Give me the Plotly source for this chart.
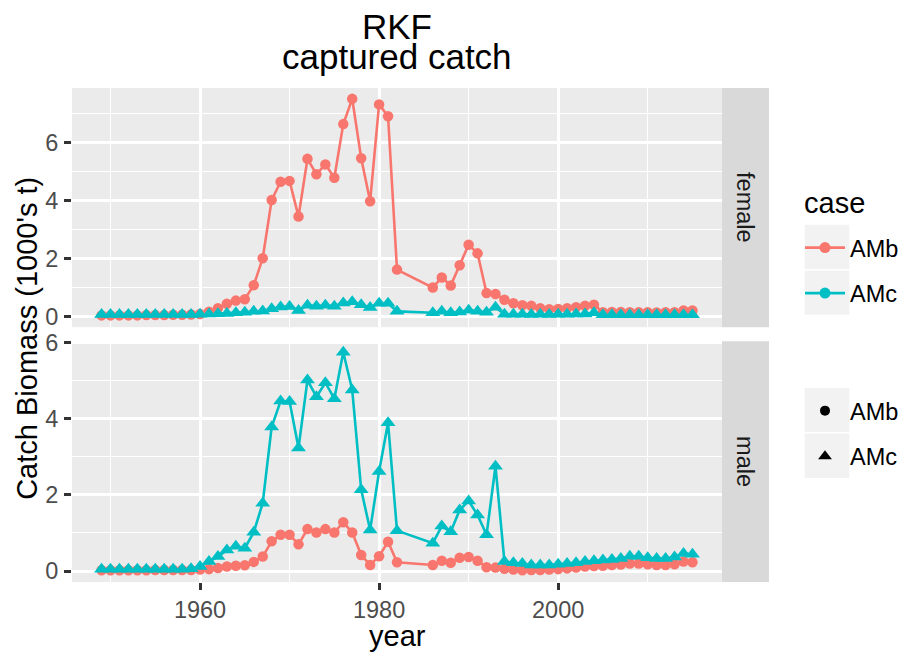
import plotly.graph_objects as go

# ---------------- data ----------------
years = list(range(1949, 1983)) + list(range(1986, 2016))

female_AMb = [0.03, 0.03, 0.03, 0.03, 0.03, 0.04, 0.04, 0.04, 0.05, 0.05, 0.06,
              0.08, 0.16, 0.28, 0.43, 0.54, 0.59, 1.07, 2.00, 4.01, 4.64, 4.67,
              3.44, 5.43, 4.90, 5.24, 4.78, 6.63, 7.50, 5.45, 3.97, 7.31, 6.90, 1.61,
              0.99, 1.34, 1.06, 1.76, 2.47, 2.17, 0.80, 0.77, 0.57, 0.45, 0.38,
              0.36, 0.28, 0.24, 0.25, 0.28, 0.31, 0.36, 0.40, 0.14, 0.15, 0.15,
              0.14, 0.14, 0.14, 0.13, 0.14, 0.14, 0.20, 0.20]
female_AMc = [0.06, 0.06, 0.06, 0.06, 0.06, 0.06, 0.06, 0.06, 0.06, 0.06, 0.06,
              0.07, 0.08, 0.09, 0.10, 0.12, 0.14, 0.17, 0.18, 0.26, 0.32, 0.34,
              0.20, 0.38, 0.35, 0.38, 0.35, 0.46, 0.50, 0.40, 0.30, 0.45, 0.45, 0.17,
              0.12, 0.17, 0.12, 0.15, 0.21, 0.17, 0.14, 0.31, 0.07, 0.07, 0.07,
              0.06, 0.07, 0.06, 0.07, 0.07, 0.08, 0.08, 0.12, 0.05, 0.05, 0.05,
              0.05, 0.05, 0.05, 0.05, 0.05, 0.05, 0.05, 0.05]
male_AMb = [0.02, 0.02, 0.02, 0.02, 0.02, 0.02, 0.03, 0.03, 0.03, 0.03, 0.03,
            0.04, 0.05, 0.08, 0.12, 0.14, 0.15, 0.24, 0.38, 0.78, 0.95, 0.95,
            0.70, 1.10, 1.01, 1.10, 1.01, 1.28, 1.01, 0.42, 0.16, 0.39, 0.77, 0.23,
            0.16, 0.27, 0.22, 0.35, 0.37, 0.27, 0.10, 0.09, 0.06, 0.04, 0.02,
            0.03, 0.03, 0.04, 0.05, 0.07, 0.09, 0.12, 0.13, 0.14, 0.16, 0.17,
            0.20, 0.20, 0.18, 0.16, 0.16, 0.18, 0.25, 0.23]
male_AMc = [0.05, 0.05, 0.05, 0.05, 0.05, 0.05, 0.05, 0.05, 0.05, 0.05, 0.06,
            0.12, 0.25, 0.38, 0.55, 0.65, 0.60, 1.02, 1.78, 3.78, 4.46, 4.45,
            3.23, 5.01, 4.57, 4.94, 4.52, 5.74, 4.75, 2.13, 1.08, 2.61, 3.89, 1.06,
            0.73, 1.18, 1.03, 1.60, 1.84, 1.47, 0.95, 2.75, 0.25, 0.22, 0.20,
            0.16, 0.16, 0.16, 0.18, 0.20, 0.22, 0.25, 0.27, 0.29, 0.30, 0.33,
            0.39, 0.39, 0.35, 0.33, 0.33, 0.37, 0.46, 0.44]

cases = ["AMb", "AMc"]
case_colors = ["#F8766D", "#00BFC4"]
case_symbols = ["circle", "triangle-up"]
x_ticks = [1960, 1980, 2000]
y_ticks = [0, 2, 4, 6]

# ---------------- layout helpers ----------------
FONT = "Liberation Sans, Arial, Helvetica, sans-serif"
W, H = 907, 655
OFF = 8  # page body margin shifts the figure by 8px right/down
# target pixel geometry (as seen in the screenshot)
P_LEFT, P_RIGHT, P_TOP, P_BOT = 72, 769, 88.3, 582.0
L = P_LEFT - OFF
T = P_TOP - OFF
R = W - (P_RIGHT - OFF)
B = H - (P_BOT - OFF)
PW, PH = W - L - R, H - T - B


def fx(px):
    return (px - OFF - L) / PW


def fy(py):
    return (H - B - (py - OFF)) / PH


fig = go.Figure()

panels = [("female", [female_AMb, female_AMc], "x2", "y2"),
          ("male", [male_AMb, male_AMc], "x", "y")]

for name, series, xa, ya in panels:
    # lines first (ggplot draws geom_line below geom_point)
    for case, col, vals in zip(cases, case_colors, series):
        fig.add_trace(go.Scatter(x=years, y=vals, mode="lines", xaxis=xa, yaxis=ya,
                                 line=dict(color=col, width=2.6),
                                 showlegend=False, hoverinfo="skip"))
    for case, col, sym, vals in zip(cases, case_colors, case_symbols, series):
        fig.add_trace(go.Scatter(x=years, y=vals, mode="markers", xaxis=xa, yaxis=ya,
                                 marker=dict(color=col, symbol=sym,
                                             size=10.5 if sym == "circle" else 13,
                                             line=dict(width=0)),
                                 name=case, showlegend=False))

# legend entries: colour legend
for case, col in zip(cases, case_colors):
    fig.add_trace(go.Scatter(x=[None], y=[None], mode="lines+markers", name=case,
                             line=dict(color=col, width=2.8),
                             marker=dict(color=col, size=11, symbol="circle"),
                             legend="legend", legendgroup="c" + case))
# legend entries: shape legend
for case, sym in zip(cases, case_symbols):
    fig.add_trace(go.Scatter(x=[None], y=[None], mode="markers", name=case,
                             marker=dict(color="black", size=10 if sym == "circle" else 12,
                                         symbol=sym),
                             legend="legend2", legendgroup="s" + case))

grid_major = dict(showgrid=True, gridcolor="white", gridwidth=2.7, zeroline=False,
                  showline=False)

female_top, female_bot = 88.3, 327.3
male_top, male_bot = 341.3, 582.0
x_range = [1945.7, 2018.3]
tick_style = dict(ticks="outside", ticklen=7, tickwidth=2.7, tickcolor="#333333",
                  tickfont=dict(size=23.5, color="#4D4D4D"))

fig.update_layout(
    width=W, height=H,
    margin=dict(l=L, r=R, t=T, b=B, autoexpand=False),
    paper_bgcolor="white", plot_bgcolor="#EBEBEB",
    font=dict(family=FONT, color="black"),
    xaxis=dict(domain=[0, fx(722)], anchor="y", range=x_range, tickvals=x_ticks,
               minor=dict(dtick=10, tick0=1950, showgrid=True, gridcolor="white",
                          gridwidth=1.3, ticks=""),
               **tick_style, **grid_major),
    xaxis2=dict(domain=[0, fx(722)], anchor="y2", range=x_range, matches="x",
                tickvals=x_ticks, showticklabels=False, ticks="",
                minor=dict(dtick=10, tick0=1950, showgrid=True, gridcolor="white",
                           gridwidth=1.3, ticks=""),
                **grid_major),
    yaxis=dict(domain=[0, fy(male_top)], anchor="x", range=[-0.287, 6.03],
               tickvals=y_ticks, ticklabelstandoff=1,
               minor=dict(tickvals=[1, 3, 5], showgrid=True, gridcolor="white",
                          gridwidth=1.3, ticks=""),
               **tick_style, **grid_major),
    yaxis2=dict(domain=[fy(female_bot), 1], anchor="x2", range=[-0.375, 7.875],
                tickvals=y_ticks, ticklabelstandoff=1,
                minor=dict(tickvals=[1, 3, 5, 7], showgrid=True, gridcolor="white",
                           gridwidth=1.3, ticks=""),
                **tick_style, **grid_major),
    legend=dict(font=dict(size=23.5), x=fx(800), xanchor="left", y=fy(226),
                yanchor="top", itemwidth=40, tracegroupgap=12,
                bgcolor="rgba(0,0,0,0)"),
    legend2=dict(font=dict(size=23.5), x=fx(800), xanchor="left", y=fy(389),
                 yanchor="top", itemwidth=40, tracegroupgap=12,
                 bgcolor="rgba(0,0,0,0)"),
)

shapes = []
# facet strips
for top, bot in [(female_top, female_bot), (male_top, male_bot)]:
    shapes.append(dict(type="rect", xref="paper", yref="paper", x0=fx(722), x1=fx(769),
                       y0=fy(bot), y1=fy(top), fillcolor="#D9D9D9", line=dict(width=0),
                       layer="below"))
# legend key backgrounds
for top in [224.3, 270.0, 387.3, 433.0]:
    shapes.append(dict(type="rect", xref="paper", yref="paper", x0=fx(804), x1=fx(850),
                       y0=fy(top + 45.7), y1=fy(top), fillcolor="#F2F2F2",
                       line=dict(color="white", width=1.4), layer="below"))
fig.update_layout(shapes=shapes)


def ann(text, x, y, size, color="black", xanchor="center", yanchor="middle", angle=0):
    return dict(text=text, xref="paper", yref="paper", x=fx(x), y=fy(y),
                showarrow=False, xanchor=xanchor, yanchor=yanchor, textangle=angle,
                font=dict(size=size, color=color))


annotations = [
    # plot title (two lines, ggplot line height)
    ann("RKF", 397, 48, 35, yanchor="bottom"),
    ann("captured catch", 397, 78, 35, yanchor="bottom"),
    # facet strip labels
    ann("female", 745.5, (female_top + female_bot) / 2, 23.5, "#1A1A1A", angle=90),
    ann("male", 745.5, (male_top + male_bot) / 2, 23.5, "#1A1A1A", angle=90),
    # axis titles
    ann("Catch Biomass (1000's t)", 27, 339, 29, angle=-90),
    ann("year", 397, 654, 29, yanchor="bottom"),
    # colour legend title
    ann("case", 802, 203, 29, xanchor="left"),
]
fig.update_layout(annotations=annotations)

fig.write_html("out.html")
